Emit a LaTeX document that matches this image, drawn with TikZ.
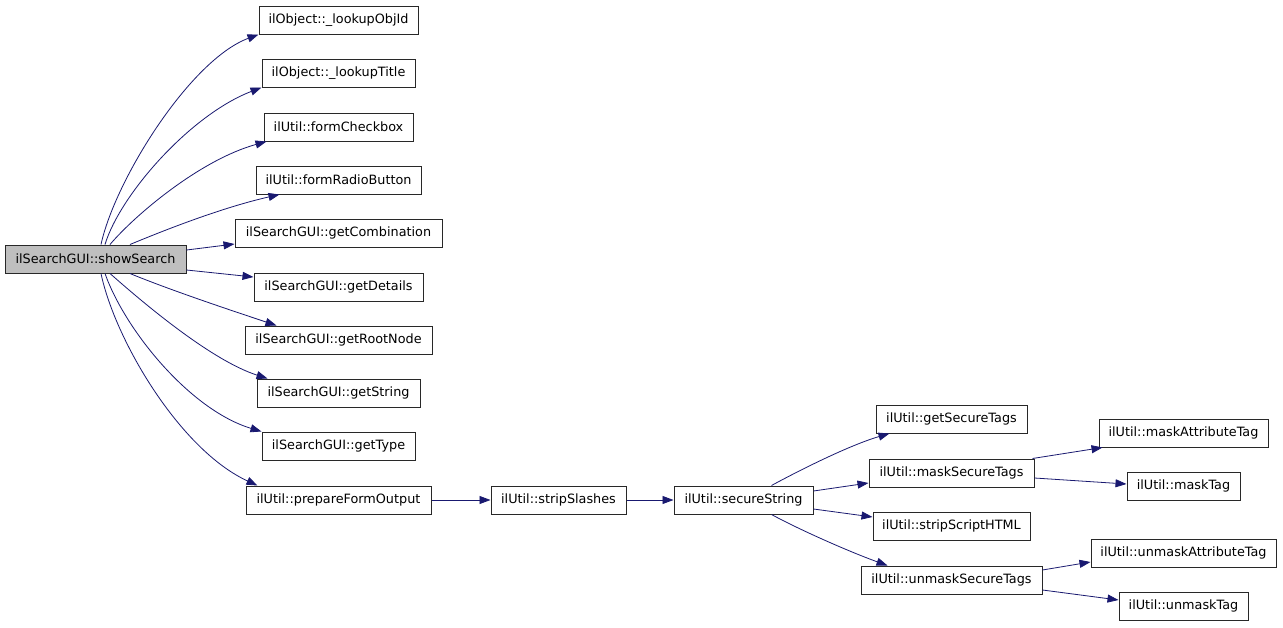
\documentclass[tikz,border=0pt]{standalone}
\usepackage{fontspec}
\setmainfont{DejaVu Sans}
\usetikzlibrary{arrows.meta}
\definecolor{edgeblue}{RGB}{25,25,112}
\definecolor{boxgray}{RGB}{191,191,191}
\definecolor{boxline}{RGB}{40,40,40}
\begin{document}
\begin{tikzpicture}[x=1pt,y=-1pt,
  fn/.style={draw=boxline, line width=1pt, fill=white, inner sep=0pt,
    minimum height=28pt, font=\fontsize{12.8}{14}\selectfont, text=black},
  cur/.style={fn, fill=boxgray},
  call/.style={draw=edgeblue, line width=0.8pt, -{Triangle[length=11pt,width=8pt]}, edgeblue}
]
\fill[white] (0,0) rectangle (1283,627);
\useasboundingbox (0,0) rectangle (1283,627);

\node[cur, minimum width=181pt] (show) at (95.5,259) {ilSearchGUI::showSearch};
\node[fn, minimum width=159pt] (objid) at (338.5,20) {ilObject::\_lookupObjId};
\node[fn, minimum width=153pt] (title) at (338.5,73) {ilObject::\_lookupTitle};
\node[fn, minimum width=149pt] (check) at (338.5,127) {ilUtil::formCheckbox};
\node[fn, minimum width=165pt] (radio) at (338.5,180) {ilUtil::formRadioButton};
\node[fn, minimum width=207pt] (comb) at (338.5,233) {ilSearchGUI::getCombination};
\node[fn, minimum width=169pt] (details) at (338.5,287) {ilSearchGUI::getDetails};
\node[fn, minimum width=187pt] (root) at (338.5,340) {ilSearchGUI::getRootNode};
\node[fn, minimum width=163pt] (string) at (338.5,393) {ilSearchGUI::getString};
\node[fn, minimum width=153pt] (type) at (338.5,446) {ilSearchGUI::getType};
\node[fn, minimum width=185pt] (prep) at (338.5,500) {ilUtil::prepareFormOutput};
\node[fn, minimum width=135pt] (strip) at (558.5,500) {ilUtil::stripSlashes};
\node[fn, minimum width=139pt] (secure) at (743.5,500) {ilUtil::secureString};
\node[fn, minimum width=151pt] (gettags) at (951.5,419) {ilUtil::getSecureTags};
\node[fn, minimum width=165pt] (masktags) at (951.5,473) {ilUtil::maskSecureTags};
\node[fn, minimum width=157pt] (script) at (951.5,526) {ilUtil::stripScriptHTML};
\node[fn, minimum width=181pt] (unmasktags) at (951.5,580) {ilUtil::unmaskSecureTags};
\node[fn, minimum width=169pt] (maskattr) at (1183.5,433) {ilUtil::maskAttributeTag};
\node[fn, minimum width=113pt] (masktag) at (1183.5,486) {ilUtil::maskTag};
\node[fn, minimum width=185pt] (unmaskattr) at (1183.5,553) {ilUtil::unmaskAttributeTag};
\node[fn, minimum width=129pt] (unmasktag) at (1183.5,606) {ilUtil::unmaskTag};

% edges from showSearch
\draw[call] ([xshift=5.5pt]show.north) .. controls (115,180) and (190,60) .. (objid.south west);
\draw[call] ([xshift=9.5pt]show.north) .. controls (120,195) and (190,115) .. (title.south west);
\draw[call] ([xshift=14.5pt]show.north) .. controls (135,215) and (200,160) .. ([xshift=3pt]check.south west);
\draw[call] ([xshift=34.5pt]show.north) .. controls (160,232) and (220,208) .. ([xshift=24pt]radio.south west);
\draw[call] ([yshift=9pt]show.east) -- ([yshift=-11pt]comb.west);
\draw[call] ([yshift=-11pt]show.east) -- ([yshift=10pt]details.west);
\draw[call] ([xshift=34.5pt]show.south) .. controls (170,290) and (230,310) .. ([xshift=32pt]root.north west);
\draw[call] ([xshift=14.5pt]show.south) .. controls (140,300) and (210,360) .. ([xshift=11pt]string.north west);
\draw[call] ([xshift=9.5pt]show.south) .. controls (125,330) and (190,410) .. (type.north west);
\draw[call] ([xshift=5.5pt]show.south) .. controls (115,340) and (180,450) .. ([xshift=12pt]prep.north west);

% chain
\draw[call] (prep.east) -- (strip.west);
\draw[call] (strip.east) -- (secure.west);

% from secureString
\draw[call] ([xshift=28pt]secure.north) .. controls (800,470) and (850,445) .. ([xshift=14pt]gettags.south west);
\draw[call] ([yshift=9pt]secure.east) -- ([yshift=-10pt]masktags.west);
\draw[call] ([yshift=-9pt]secure.east) -- ([yshift=9pt]script.west);
\draw[call] ([xshift=28pt]secure.south) .. controls (800,530) and (850,552) .. ([xshift=27pt]unmasktags.north west);

% from mask/unmask
\draw[call] ([xshift=-2pt]masktags.north east) -- ([xshift=4pt]maskattr.south west);
\draw[call] ([yshift=-5pt]masktags.east) -- ([yshift=2pt]masktag.west);
\draw[call] ([yshift=10pt]unmasktags.east) -- ([yshift=-9pt]unmaskattr.west);
\draw[call] ([yshift=-10pt]unmasktags.east) -- ([yshift=6pt]unmasktag.west);
\end{tikzpicture}
\end{document}
